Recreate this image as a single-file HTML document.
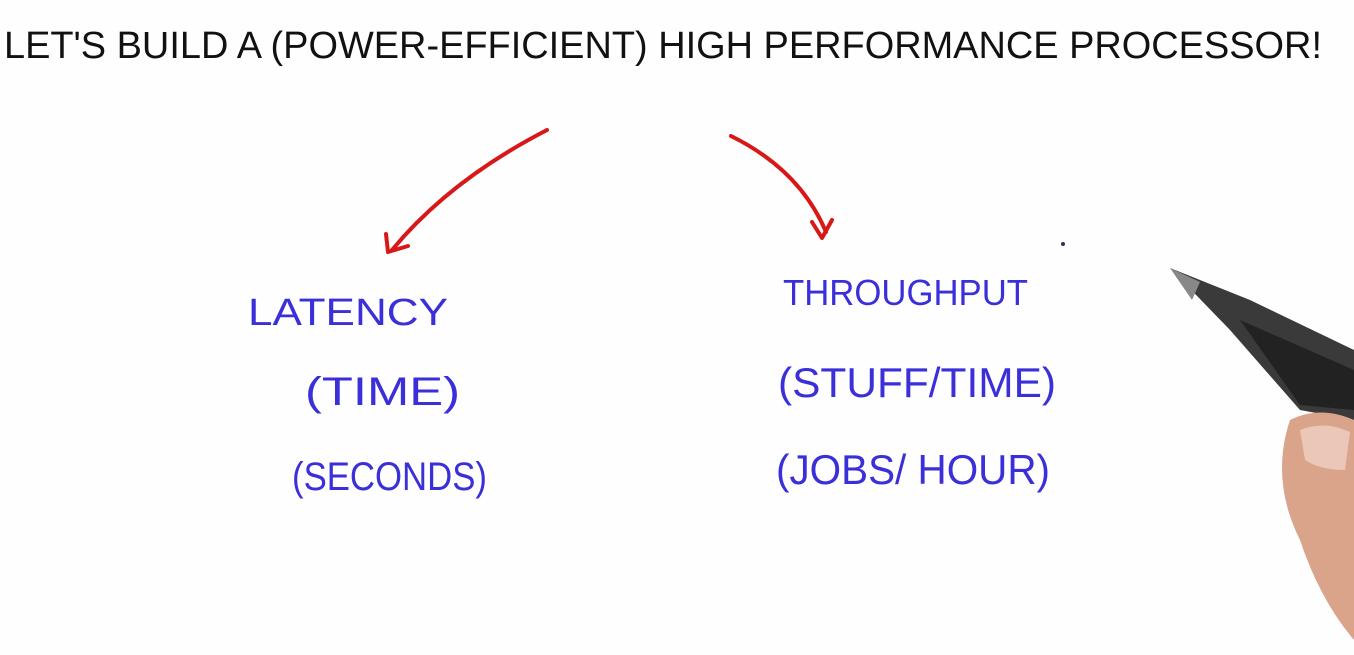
<!DOCTYPE html>
<html><head><meta charset="utf-8"><style>
html,body{margin:0;padding:0;background:#fff;width:1354px;height:655px;overflow:hidden}
svg{display:block}
text{font-family:"Liberation Sans",sans-serif}
</style></head><body>
<svg width="1354" height="655" viewBox="0 0 1354 655" xmlns="http://www.w3.org/2000/svg">
<rect width="1354" height="655" fill="#fefefe"/>
<text x="4" y="58" font-size="38" fill="#111" textLength="1318" lengthAdjust="spacingAndGlyphs">LET'S BUILD A (POWER-EFFICIENT) HIGH PERFORMANCE PROCESSOR!</text>
<g fill="none" stroke="#d81818" stroke-width="4" stroke-linecap="round" stroke-linejoin="round">
<path d="M547 130 Q450 180 392 250"/>
<path d="M386 234 L388 252 L408 246"/>
<path d="M731 136 Q800 170 826 232"/>
<path d="M812 222 L822 238 L832 220"/>
</g>
<g fill="#3a2fd8">
<text x="248" y="325" font-size="38" textLength="200" lengthAdjust="spacingAndGlyphs">LATENCY</text>
<text x="305" y="405" font-size="40" textLength="155" lengthAdjust="spacingAndGlyphs">(TIME)</text>
<text x="292" y="490" font-size="40" textLength="195" lengthAdjust="spacingAndGlyphs">(SECONDS)</text>
<text x="783" y="305" font-size="36" textLength="245" lengthAdjust="spacingAndGlyphs">THROUGHPUT</text>
<text x="778" y="397" font-size="42" textLength="278" lengthAdjust="spacingAndGlyphs">(STUFF/TIME)</text>
<text x="776" y="484" font-size="42" textLength="274" lengthAdjust="spacingAndGlyphs">(JOBS/ HOUR)</text>
</g>
<circle cx="1063" cy="244" r="2" fill="#335"/>
<path d="M1170 268 L1250 300 L1354 350 L1354 420 L1300 410 L1230 330 Z" fill="#3a3a3a"/>
<path d="M1170 268 L1200 282 L1192 300 Z" fill="#888"/>
<path d="M1240 320 L1354 370 L1354 410 L1300 405 Z" fill="#222"/>
<path d="M1290 420 Q1320 405 1354 420 L1354 640 Q1320 600 1300 540 Q1270 480 1290 420 Z" fill="#d9a48a"/>
<path d="M1300 430 Q1325 420 1350 432 L1345 470 Q1320 470 1305 460 Z" fill="#eac7b6"/>
</svg>
</body></html>
